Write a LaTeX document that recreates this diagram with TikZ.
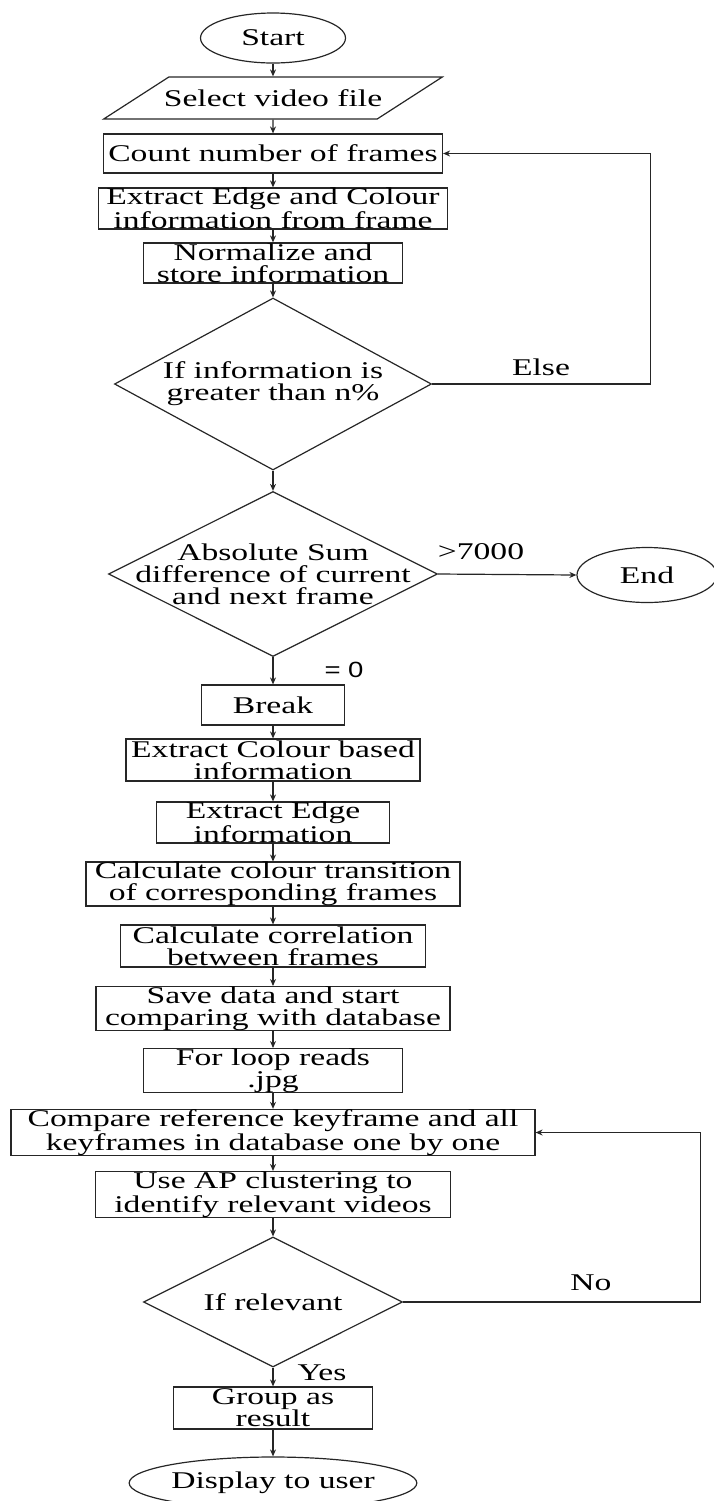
\documentclass[tikz,border=0pt]{standalone}
\usepackage{fontspec}
\setmainfont{Liberation Serif}[FakeStretch=1.4]
\newfontfamily\labelsans{Liberation Sans}[FakeStretch=1.25]
\usetikzlibrary{shapes.geometric,arrows.meta}

\tikzset{
  box/.style={draw=black!85, line width=0.6pt, inner sep=0pt, align=center},
  terminal/.style={box, ellipse},
  io/.style={box, trapezium, trapezium left angle=31, trapezium right angle=149,
             trapezium stretches body, inner xsep=-2.5pt, inner ysep=5.5pt},
  process/.style={box, rectangle},
  decision/.style={box, diamond},
  arr/.style={draw=black!85, line width=0.6pt, -{Stealth[length=3.5pt,width=3pt]}},
}

\begin{document}
\begin{tikzpicture}[x=0.5pt, y=-0.5pt, font=\fontsize{12}{11}\selectfont]
  % one unit is one pixel of the page
  \def\unitpx{0.5pt}
  \useasboundingbox (0,0) rectangle (713,1501);

  % Nodes of the first part
  \node[terminal, minimum width=145*\unitpx, minimum height=50*\unitpx] (start) at (273,38) {Start};
  \node[io, minimum height=42*\unitpx] (sel) at (273,98) {Select video file};
  \node[process, minimum width=339*\unitpx, minimum height=39*\unitpx] (count) at (273,153.5) {Count number of frames};
  \node[process, minimum width=349*\unitpx, minimum height=41*\unitpx] (extract) at (273,208.5) {Extract Edge and Colour\\information from frame};
  \node[process, minimum width=259*\unitpx, minimum height=40*\unitpx] (norm) at (273,263) {Normalize and\\store information};
  \node[decision, minimum width=317*\unitpx, minimum height=172*\unitpx,
        label={[align=center]center:If information is\\greater than n\%}] (d1) at (273,384) {};
  \node[decision, minimum width=329*\unitpx, minimum height=165*\unitpx,
        label={[align=center]center:Absolute Sum\\difference of current\\and next frame}] (d2) at (273,574) {};
  \node[terminal, minimum width=140*\unitpx, minimum height=55*\unitpx] (stop) at (647,575) {End};

  % Nodes of the second part
  \node[process, minimum width=143*\unitpx, minimum height=40*\unitpx] (brk) at (273,705) {Break};
  \node[process, minimum width=294*\unitpx, minimum height=42*\unitpx] (colour) at (273,760) {Extract Colour based\\information};
  \node[process, minimum width=233*\unitpx, minimum height=41*\unitpx] (edge) at (273,822.5) {Extract Edge\\information};
  \node[process, minimum width=374*\unitpx, minimum height=42*\unitpx] (trans) at (273,884) {Calculate colour transition\\of corresponding frames};
  \node[process, minimum width=305*\unitpx, minimum height=42*\unitpx] (corr) at (273,946) {Calculate correlation\\between frames};
  \node[process, minimum width=354*\unitpx, minimum height=41*\unitpx] (save) at (273,1008.5) {Save data and start\\comparing with database};
  \node[process, minimum width=259*\unitpx, minimum height=41*\unitpx] (loop) at (273,1070.5) {For loop reads\\.jpg};
  \node[process, minimum width=524*\unitpx, minimum height=41*\unitpx] (comp) at (273,1132.5) {Compare reference keyframe and all\\keyframes in database one by one};
  \node[process, minimum width=355*\unitpx, minimum height=41*\unitpx] (ap) at (273,1194.5) {Use AP clustering to\\identify relevant videos};
  \node[decision, minimum width=259*\unitpx, minimum height=130*\unitpx,
        label={center:If relevant}] (d3) at (273,1302) {};
  \node[process, minimum width=199*\unitpx, minimum height=42*\unitpx] (grp) at (273,1408) {Group as\\result};
  \node[terminal, minimum width=246*\unitpx, minimum height=52*\unitpx] (disp) at (273,1483) {Display to user};

  % Branch labels
  \node (lelse) at (541,367) {Else};
  \node (lmore) at (481,552) {>7000};
  \node[font=\labelsans\fontsize{11}{11}\selectfont] (lzero) at (344,670) {= 0};
  \node (lno) at (591,1283) {No};
  \node (lyes) at (322,1373) {Yes};

  % Main flow
  \foreach \a/\b in {start/sel, sel/count, count/extract, extract/norm, norm/d1, d1/d2,
                     d2/brk, brk/colour, colour/edge, edge/trans, trans/corr, corr/save,
                     save/loop, loop/comp, comp/ap, ap/d3, d3/grp, grp/disp}
    \draw[arr] (\a) -- (\b);

  % Side branches
  \draw[arr] (d1.east) -- ++(218,0) |- (count.east);
  \draw[arr] (d2.east) -- (stop.west);
  \draw[arr] (d3.east) -- ++(297,0) |- (comp.east);

\end{tikzpicture}
\end{document}
